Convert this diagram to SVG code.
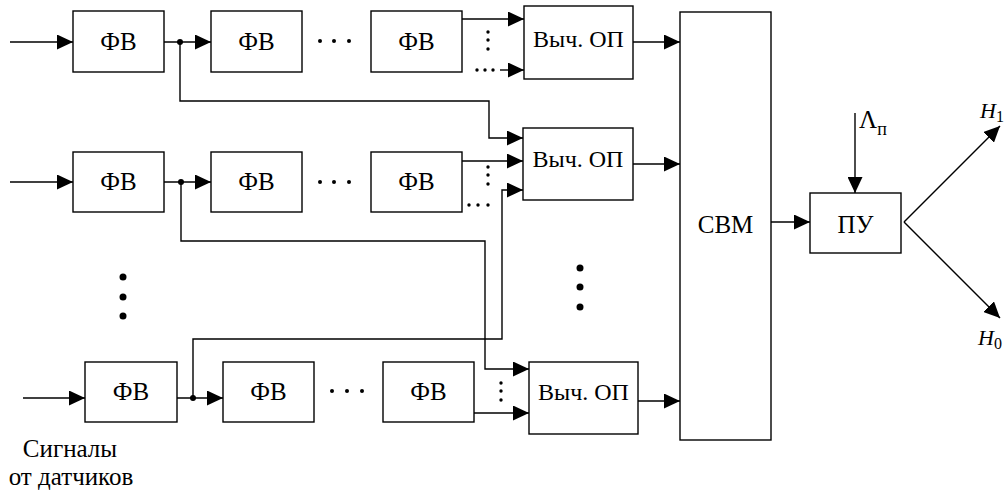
<svg xmlns="http://www.w3.org/2000/svg" width="1007" height="490" viewBox="0 0 1007 490">
<style>
.box{fill:#fff;stroke:#000;stroke-width:1.4}
.ln{fill:none;stroke:#000;stroke-width:1.4}
text{font-family:'Liberation Serif','Times New Roman',serif;fill:#000}
.t{font-size:25px;text-anchor:middle}
.v{font-size:24px;text-anchor:middle}
.it{font-style:italic;font-size:22px}
</style>
<defs>
<marker id="ar" markerUnits="userSpaceOnUse" markerWidth="16" markerHeight="15" refX="16" refY="7.5" orient="auto">
<path d="M0,0 L16,7.5 L0,15 z" fill="#000"/>
</marker>
</defs>
<rect width="1007" height="490" fill="#fff"/>

<g id="connectors">
<path class="ln" d="M10,42 H73" marker-end="url(#ar)"/>
<path class="ln" d="M164,42 H211" marker-end="url(#ar)"/>
<path class="ln" d="M462,19 H524" marker-end="url(#ar)"/>
<path class="ln" d="M500,70 H524" marker-end="url(#ar)"/>
<path class="ln" d="M633,42 H680" marker-end="url(#ar)"/>
<path class="ln" d="M180,42 V101 H489 V138 H523" marker-end="url(#ar)"/>
<path class="ln" d="M10,182 H73" marker-end="url(#ar)"/>
<path class="ln" d="M164,182 H211" marker-end="url(#ar)"/>
<path class="ln" d="M462,161 H523" marker-end="url(#ar)"/>
<path class="ln" d="M633,164 H680" marker-end="url(#ar)"/>
<path class="ln" d="M181,182 V241 H485 V369 H529" marker-end="url(#ar)"/>
<path class="ln" d="M23,398 H85" marker-end="url(#ar)"/>
<path class="ln" d="M177,398 H223" marker-end="url(#ar)"/>
<path class="ln" d="M474,413 H529" marker-end="url(#ar)"/>
<path class="ln" d="M638,401 H680" marker-end="url(#ar)"/>
<path class="ln" d="M193,398 V339 H502 V190 H523" marker-end="url(#ar)"/>
<path class="ln" d="M771,222 H810" marker-end="url(#ar)"/>
<path class="ln" d="M855,113 V193" marker-end="url(#ar)"/>
<path class="ln" d="M904,222 L1000,126" marker-end="url(#ar)"/>
<path class="ln" d="M904,222 L1000,318" marker-end="url(#ar)"/>
<circle cx="180" cy="42" r="3"/>
<circle cx="181" cy="182" r="3"/>
<circle cx="193" cy="398" r="3"/>
</g>

<g id="dots">
<circle cx="320" cy="41" r="2"/><circle cx="334" cy="41" r="2"/><circle cx="349" cy="41" r="2"/>
<circle cx="320" cy="182" r="2"/><circle cx="334" cy="182" r="2"/><circle cx="349" cy="182" r="2"/>
<circle cx="332" cy="391" r="2"/><circle cx="347" cy="391" r="2"/><circle cx="362" cy="391" r="2"/>
<circle cx="488" cy="32" r="1.7"/><circle cx="488" cy="40" r="1.7"/><circle cx="488" cy="49" r="1.7"/>
<circle cx="477" cy="70" r="1.7"/><circle cx="485" cy="70" r="1.7"/><circle cx="493" cy="70" r="1.7"/>
<circle cx="488" cy="167" r="1.7"/><circle cx="488" cy="175" r="1.7"/><circle cx="488" cy="184" r="1.7"/>
<circle cx="469" cy="205" r="1.7"/><circle cx="478" cy="205" r="1.7"/><circle cx="488" cy="205" r="1.7"/>
<circle cx="501" cy="383" r="1.7"/><circle cx="501" cy="391" r="1.7"/><circle cx="501" cy="400" r="1.7"/>
<circle cx="123" cy="277" r="3.5"/><circle cx="123" cy="297" r="3.5"/><circle cx="123" cy="316" r="3.5"/>
<circle cx="580" cy="268" r="3.5"/><circle cx="580" cy="287" r="3.5"/><circle cx="580" cy="307" r="3.5"/>
</g>

<g id="fv11"><rect class="box" x="73" y="11" width="91" height="61"/><text class="t" x="118.5" y="50">ФВ</text></g>
<g id="fv12"><rect class="box" x="211" y="11" width="91" height="61"/><text class="t" x="256.5" y="50">ФВ</text></g>
<g id="fv13"><rect class="box" x="371" y="11" width="91" height="61"/><text class="t" x="416.5" y="50">ФВ</text></g>
<g id="op1"><rect class="box" x="524" y="6" width="109" height="73"/><text class="v" x="578.5" y="47">Выч. ОП</text></g>

<g id="fv21"><rect class="box" x="73" y="152" width="91" height="60"/><text class="t" x="118.5" y="190">ФВ</text></g>
<g id="fv22"><rect class="box" x="211" y="152" width="91" height="60"/><text class="t" x="256.5" y="190">ФВ</text></g>
<g id="fv23"><rect class="box" x="371" y="152" width="91" height="60"/><text class="t" x="416.5" y="190">ФВ</text></g>
<g id="op2"><rect class="box" x="523" y="128" width="110" height="72"/><text class="v" x="578" y="167">Выч. ОП</text></g>

<g id="fv31"><rect class="box" x="85" y="362" width="92" height="60"/><text class="t" x="131" y="400">ФВ</text></g>
<g id="fv32"><rect class="box" x="223" y="362" width="91" height="60"/><text class="t" x="268.5" y="400">ФВ</text></g>
<g id="fv33"><rect class="box" x="383" y="362" width="91" height="60"/><text class="t" x="428.5" y="400">ФВ</text></g>
<g id="op3"><rect class="box" x="529" y="362" width="109" height="72"/><text class="v" x="583.5" y="400">Выч. ОП</text></g>

<g id="svm"><rect class="box" x="680" y="12" width="91" height="428"/><text class="t" x="725.5" y="233">СВМ</text></g>
<g id="pu"><rect class="box" x="810" y="193" width="91" height="60"/><text class="t" x="855.5" y="233">ПУ</text></g>

<g id="labels">
<text class="t" x="70" y="457">Сигналы</text>
<text class="t" x="71" y="485">от датчиков</text>
<text x="859" y="128" font-size="25">Λ<tspan font-size="18" dy="7">п</tspan></text>
<text class="it" x="980" y="118">H<tspan font-style="normal" font-size="16" dy="4">1</tspan></text>
<text class="it" x="978" y="345">H<tspan font-style="normal" font-size="16" dy="4">0</tspan></text>
</g>
</svg>
